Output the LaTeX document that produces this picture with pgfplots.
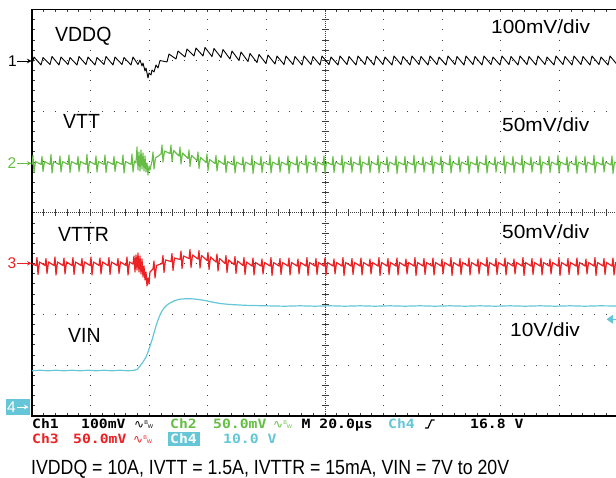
\documentclass[border=0pt]{standalone}
\usepackage{pgfplots}
\pgfplotsset{compat=1.18}
\usepackage{fontspec}
\setmainfont{Liberation Sans}
\newfontfamily\scopefont{DejaVu Sans Mono}
\newfontfamily\symfont{DejaVu Sans}
\usetikzlibrary{arrows.meta}
\definecolor{chgreen}{RGB}{102,189,69}
\definecolor{chred}{RGB}{237,32,36}
\definecolor{chcyan}{RGB}{100,198,214}
\definecolor{gridc}{RGB}{60,60,60}
\newcommand{\bw}{{\symfont\fontsize{12}{12}\selectfont ∿}\raisebox{3.5pt}{\fontsize{5.5}{5.5}\selectfont B}\raisebox{-0.5pt}{\fontsize{5.5}{5.5}\selectfont W}}
\begin{document}
\begin{tikzpicture}
% ---------- graticule ----------
\begin{scope}[x=1pt,y=-1pt]
\foreach \i in {1,2,3,4,6,7,8,9}
  \draw[gridc, line width=0.9pt, dash pattern=on 0.9pt off 9.2625pt, dash phase=0.45pt] ({32+58.6*\i},9.5) -- ({32+58.6*\i},416);
\foreach \j in {1,2,3,5,6,7}
  \draw[gridc, line width=0.9pt, dash pattern=on 0.9pt off 10.82pt, dash phase=0.45pt] (32,{9.5+50.8125*\j}) -- (618,{9.5+50.8125*\j});
\draw[gridc, line width=0.8pt, dash pattern=on 0.8pt off 1.2pt] (325,9.5) -- (325,416);
\draw[gridc, line width=0.8pt, dash pattern=on 0.8pt off 1.2pt] (32,212.75) -- (618,212.75);
\foreach \j in {1,...,39}
  \draw[gridc, line width=0.7pt] (321.5,{9.5+10.1625*\j}) -- (328.5,{9.5+10.1625*\j});
\foreach \i in {1,...,49}
  \draw[gridc, line width=0.7pt] ({32+11.72*\i},209.5) -- ({32+11.72*\i},216);
\foreach \i in {1,...,49} {
  \draw[gridc, line width=0.8pt] ({32+11.72*\i},9.5) -- ({32+11.72*\i},12.5);
  \draw[gridc, line width=0.8pt] ({32+11.72*\i},416) -- ({32+11.72*\i},413);
}
\foreach \j in {1,...,39}
  \draw[gridc, line width=0.8pt] (32,{9.5+10.1625*\j}) -- (35,{9.5+10.1625*\j});
\draw[black, line width=1.2pt] (618,9.5) -- (32,9.5) -- (32,416) -- (618,416);
\end{scope}
% ---------- traces ----------
\begin{axis}[at={(32pt,-9.5pt)}, anchor=north west, scale only axis,
  width=586pt, height=406.5pt, xmin=32, xmax=618, ymin=9.5, ymax=416,
  y dir=reverse, hide axis, clip=false]
% Ch4 VIN
\addplot[chcyan, line width=1.2pt, mark=none, line join=round] coordinates {
(32,370.8)(40,370.2)(48,370.8)(56,370.2)(64,370.8)(72,370.2)(80,370.8)(88,370.2)(96,370.8)(104,370.2)(112,370.8)(120,370.2)(128,370.8)(134,370.3)(137,369.5)(140,366)(143,362)(146,357)(148,352)(150,346)(152,340)(154,333)(156,326)(158,320)(160,315)(162,311)(164,308)(167,305)(170,303)(175,300.5)(180,299.2)(186,298.7)(192,298.8)(198,299.4)(205,300.5)(212,302)(220,303.5)(230,304.5)(245,305.3)(265,305.8)(285,306.2)(300,305.8)(315,306.2)(330,305.8)(345,306.2)(360,305.8)(375,306.2)(390,305.8)(405,306.2)(420,305.8)(435,306.2)(450,305.8)(465,306.2)(480,305.8)(495,306.2)(510,305.8)(525,306.2)(540,305.8)(555,306.2)(570,305.8)(585,306.2)(600,305.8)(618,306)
};
% Ch3 VTTR
\addplot[chred, line width=1.2pt, mark=none, line join=round] coordinates {
(32,264)
(36,265.5)(37,257.5)(38,274.5)(39.5,262)
(45,265.5)(46,258.5)(47,273.5)(48.5,262)
(54,265.5)(55,257)(56,275)(57.5,262)
(63,265.5)(64,258)(65,274)(66.5,262)
(72,265.5)(73,257.5)(74,274.5)(75.5,262)
(81,265.5)(82,258.5)(83,273.5)(84.5,262)
(90,265.5)(91,257)(92,275)(93.5,262)
(99,265.5)(100,258)(101,274)(102.5,262)
(108,265.5)(109,257.5)(110,274.5)(111.5,262)
(117,265.5)(118,258.5)(119,273.5)(120.5,262)
(126,265.5)(127,257)(128,275)(129.5,262)
(133,264)(134,256)(135,272)(136,255)(137,270)(138,253)(139,272)(140,256)(141,274)(142,259)(143,277)(144,266)(145,280)(146,272)(147,286)(148,278)(149,284)(150,272)
(153,269)(154,261)(155,278)(156.5,265.5)
(162,263.5)(163,255.5)(164,272.5)(165.5,260)
(171,261.5)(172,253.5)(173,270.5)(174.5,258)
(180,259.5)(181,251)(182,268.5)(183.5,256)
(189,258.5)(190,249.5)(191,267.5)(192.5,255)
(198,259)(199,250.5)(200,268)(201.5,255.5)
(207,260.5)(208,252.5)(209,269.5)(210.5,257)
(216,262)(217,254)(218,271)(219.5,258.5)
(225,263.5)(226,255.5)(227,272.5)(228.5,260)
(234,264.5)(235,256.5)(236,273.5)(237.5,261)
(243,265.5)(244,257.5)(245,274.5)(246.5,262)
(252,266)(253,258)(254,275)(255.5,262.5)
(261,266)(262,259)(263,274)(264.5,262.5)
(270,266)(271,257.5)(272,275.5)(273.5,262.5)
(279,266)(280,258.5)(281,274.5)(282.5,262.5)
(288,266)(289,258)(290,275)(291.5,262.5)
(297,266)(298,259)(299,274)(300.5,262.5)
(306,266)(307,257.5)(308,275.5)(309.5,262.5)
(315,266)(316,258.5)(317,274.5)(318.5,262.5)
(324,266)(325,258)(326,275)(327.5,262.5)
(333,266)(334,259)(335,274)(336.5,262.5)
(342,266)(343,257.5)(344,275.5)(345.5,262.5)
(351,266)(352,258.5)(353,274.5)(354.5,262.5)
(360,266)(361,258)(362,275)(363.5,262.5)
(369,266)(370,259)(371,274)(372.5,262.5)
(378,266)(379,257.5)(380,275.5)(381.5,262.5)
(387,266)(388,258.5)(389,274.5)(390.5,262.5)
(396,266)(397,258)(398,275)(399.5,262.5)
(405,266)(406,259)(407,274)(408.5,262.5)
(414,266)(415,257.5)(416,275.5)(417.5,262.5)
(423,266)(424,258.5)(425,274.5)(426.5,262.5)
(432,266)(433,258)(434,275)(435.5,262.5)
(441,266)(442,259)(443,274)(444.5,262.5)
(450,266)(451,257.5)(452,275.5)(453.5,262.5)
(459,266)(460,258.5)(461,274.5)(462.5,262.5)
(468,266)(469,258)(470,275)(471.5,262.5)
(477,266)(478,259)(479,274)(480.5,262.5)
(486,266)(487,257.5)(488,275.5)(489.5,262.5)
(495,266)(496,258.5)(497,274.5)(498.5,262.5)
(504,266)(505,258)(506,275)(507.5,262.5)
(513,266)(514,259)(515,274)(516.5,262.5)
(522,266)(523,257.5)(524,275.5)(525.5,262.5)
(531,266)(532,258.5)(533,274.5)(534.5,262.5)
(540,266)(541,258)(542,275)(543.5,262.5)
(549,266)(550,259)(551,274)(552.5,262.5)
(558,266)(559,257.5)(560,275.5)(561.5,262.5)
(567,266)(568,258.5)(569,274.5)(570.5,262.5)
(576,266)(577,258)(578,275)(579.5,262.5)
(585,266)(586,259)(587,274)(588.5,262.5)
(594,266)(595,257.5)(596,275.5)(597.5,262.5)
(603,266)(604,258.5)(605,274.5)(606.5,262.5)
(612,266)(613,258)(614,275)(615.5,262.5)
(618,265)
};
% Ch2 VTT
\addplot[chgreen, line width=1.1pt, mark=none, line join=round] coordinates {
(32,164.5)(33,155.5)(34,172.5)(35.5,161.5)
(41,164.5)(42,156.5)(43,171.5)(44.5,161.5)
(50,164.5)(51,154.5)(52,173)(53.5,161.5)
(59,164.5)(60,156)(61,172)(62.5,161.5)
(68,164.5)(69,155)(70,172.5)(71.5,161.5)
(77,164.5)(78,156.5)(79,171.5)(80.5,161.5)
(86,164.5)(87,154.5)(88,173)(89.5,161.5)
(95,164.5)(96,156)(97,172)(98.5,161.5)
(104,164.5)(105,155)(106,172.5)(107.5,161.5)
(113,164.5)(114,156.5)(115,171.5)(116.5,161.5)
(122,164.5)(123,155)(124,173)(125.5,161.5)
(131,164.5)(132,154)(133,172)(134.5,161)
(136,163)(137,147)(138,170)(139,152)(140,171)(141,150)(142,169)(143,153)(144,171)(145,156)(146,172)(147,163)(148,175)(149,166)(150,170)
(152,161)(153,152)(154,169)(155.5,158)
(161,154)(162,145)(163,162)(164.5,151)
(170,153.5)(171,145)(172,161.5)(173.5,150.5)
(179,156)(180,147)(181,164)(182.5,153)
(188,158.5)(189,150)(190,166.5)(191.5,155.5)
(197,160.5)(198,152)(199,168.5)(200.5,157.5)
(206,162.5)(207,154)(208,170.5)(209.5,159.5)
(215,163.5)(216,155.5)(217,171)(218.5,160.5)
(224,164.5)(225,155.5)(226,172.5)(227.5,161.5)
(233,165)(234,156)(235,173)(236.5,162)
(242,165)(243,157)(244,172)(245.5,162)
(251,165)(252,155.5)(253,173.5)(254.5,162)
(260,165)(261,156.5)(262,172.5)(263.5,162)
(269,165)(270,155)(271,173)(272.5,162)
(278,165)(279,157)(280,172)(281.5,162)
(287,165)(288,156)(289,173.5)(290.5,162)
(296,165)(297,156.5)(298,172.5)(299.5,162)
(305,165)(306,155.5)(307,173)(308.5,162)
(314,165)(315,157)(316,172)(317.5,162)
(323,165)(324,156)(325,173.5)(326.5,162)
(332,165)(333,156.5)(334,172.5)(335.5,162)
(341,165)(342,155.5)(343,173)(344.5,162)
(350,165)(351,157)(352,172)(353.5,162)
(359,165)(360,156)(361,173.5)(362.5,162)
(368,165)(369,156.5)(370,172.5)(371.5,162)
(377,165)(378,155.5)(379,173)(380.5,162)
(386,165)(387,157)(388,172)(389.5,162)
(395,165)(396,156)(397,173.5)(398.5,162)
(404,165)(405,156.5)(406,172.5)(407.5,162)
(413,165)(414,155.5)(415,173)(416.5,162)
(422,165)(423,157)(424,172)(425.5,162)
(431,165)(432,156)(433,173.5)(434.5,162)
(440,165)(441,156.5)(442,172.5)(443.5,162)
(449,165)(450,155.5)(451,173)(452.5,162)
(458,165)(459,157)(460,172)(461.5,162)
(467,165)(468,156)(469,173.5)(470.5,162)
(476,165)(477,156.5)(478,172.5)(479.5,162)
(485,165)(486,155.5)(487,173)(488.5,162)
(494,165)(495,157)(496,172)(497.5,162)
(503,165)(504,156)(505,173.5)(506.5,162)
(512,165)(513,156.5)(514,172.5)(515.5,162)
(521,165)(522,155.5)(523,173)(524.5,162)
(530,165)(531,157)(532,172)(533.5,162)
(539,165)(540,156)(541,173.5)(542.5,162)
(548,165)(549,156.5)(550,172.5)(551.5,162)
(557,165)(558,155.5)(559,173)(560.5,162)
(566,165)(567,157)(568,172)(569.5,162)
(575,165)(576,156)(577,173.5)(578.5,162)
(584,165)(585,156.5)(586,172.5)(587.5,162)
(593,165)(594,155.5)(595,173)(596.5,162)
(602,165)(603,157)(604,172)(605.5,162)
(611,165)(612,156)(613,173.5)(614.5,162)
(618,164)
};
% Ch1 VDDQ
\addplot[black, line width=0.9pt, mark=none, line join=round] coordinates {
(32,64.5)(34,57)(41,65)(43,57.5)(50,64.5)(52,56.5)(59,65)(61,57)(68,64.5)(70,57.5)(77,65)(79,56.5)(86,64.5)(88,57)(95,65)(97,57.5)(104,64.5)(106,56.5)(113,65)(115,57)(122,64.5)(124,57.5)(131,65)(133,57)
(138,64.5)(140,60)(142,66)(143,63)(145,71)(146,68)(148,78)(149,73)(151,75)(152,70)(154,72)(156,65)(158,68)(160,60.5)
(167,62)(169,54)(176,59)(178,51)(185,57)(187,49)(194,56)(196,48)(203,56)(205,47.5)(212,56.5)(214,48.5)(221,57.5)(223,49.5)(230,59)(232,51)(239,60.5)(241,52)(248,61.5)(250,53.5)(257,62.5)(259,54.5)(266,63.5)(268,55)(275,64)(277,56)(284,64.5)(286,56)(293,64.5)(295,56.5)
(302,65)(304,56)(311,64.5)(313,56.5)(320,65)(322,56)(329,64.5)(331,57)(338,65)(340,56)(347,64.5)(349,56.5)(356,65)(358,56)(365,64.5)(367,56.5)(374,65)(376,56)(383,64.5)(385,57)(392,65)(394,56)(401,64.5)(403,56.5)(410,65)(412,56)(419,64.5)(421,56.5)(428,65)(430,56)(437,64.5)(439,57)(446,65)(448,56)(455,64.5)(457,56.5)(464,65)(466,56)(473,64.5)(475,56.5)(482,65)(484,56)(491,64.5)(493,57)(500,65)(502,56)(509,64.5)(511,56.5)(518,65)(520,56)(527,64.5)(529,56.5)(536,65)(538,56)(545,64.5)(547,57)(554,65)(556,56)(563,64.5)(565,56.5)(572,65)(574,56)(581,64.5)(583,56.5)(590,65)(592,56)(599,64.5)(601,57)(608,65)(610,56)(617,64.5)
};
\end{axis}
% ---------- annotations ----------
\begin{scope}[x=1pt,y=-1pt]
\tikzset{lab/.style={anchor=base west, inner sep=0pt, font=\fontsize{20.5}{24}\selectfont, xscale=0.95},
         rlab/.style={anchor=base west, inner sep=0pt, font=\fontsize{19}{22}\selectfont, xscale=1.1},
         st/.style={anchor=base west, inner sep=0pt, font=\scopefont\bfseries\fontsize{12.8}{14}\selectfont, xscale=1.15},
         mk/.style={anchor=base west, inner sep=0pt, font=\fontsize{15.5}{17}\selectfont}}
\node[lab] at (55,41.7) {VDDQ};
\node[lab] at (63,128.3) {VTT};
\node[lab] at (58,241.7) {VTTR};
\node[lab] at (68,342.7) {VIN};
\node[rlab] at (491,34) {100mV/div};
\node[rlab] at (502,131.7) {50mV/div};
\node[rlab] at (502,238.3) {50mV/div};
\node[rlab] at (510,336.7) {10V/div};
% channel markers
\node[mk, text=black] at (8,66.5) {1};
\draw[black, line width=0.9pt, -{Stealth[length=4.5pt,width=4.5pt]}] (17,61) -- (31.5,61);
\node[mk, text=chgreen] at (7.5,168.8) {2};
\draw[chgreen, line width=0.9pt, -{Stealth[length=4.5pt,width=4.5pt]}] (17,163.3) -- (31.5,163.3);
\node[mk, text=chred] at (7.5,268.8) {3};
\draw[chred, line width=0.9pt, -{Stealth[length=4.5pt,width=4.5pt]}] (17,263.3) -- (31.5,263.3);
\fill[chcyan] (5.5,399) rectangle (29.5,415);
\node[mk, text=white] at (7,412.8) {4};
\draw[white, line width=0.9pt, -{Stealth[length=4.5pt,width=4.5pt]}] (17,407) -- (28.5,407);
% trigger level marker
\fill[chcyan] (606.5,319.3) -- (613,314.8) -- (613,323.8) -- cycle;
\draw[chcyan, line width=1.2pt] (612,319.3) -- (617,319.3);
% status lines
\node[st, text=black] at (32,428.3) {Ch1};
\node[st, text=black] at (81,428.3) {100mV};
\node[anchor=base west, inner sep=0pt, text=black] at (134,428.3) {\bw};
\node[st, text=chgreen] at (170,428.3) {Ch2};
\node[st, text=chgreen] at (213,428.3) {50.0mV};
\node[anchor=base west, inner sep=0pt, text=chgreen] at (273,428.3) {\bw};
\node[st, text=black] at (301.5,428.3) {M 20.0µs};
\node[st, text=chcyan] at (388,428.3) {Ch4};
\draw[black, line width=1.2pt] (425,428) -- (428,428) -- (431.5,420) -- (434.5,420);
\node[st, text=black] at (470,428.3) {16.8 V};
\node[st, text=chred] at (32,443.3) {Ch3};
\node[st, text=chred] at (73,443.3) {50.0mV};
\node[anchor=base west, inner sep=0pt, text=chred] at (133,443.3) {\bw};
\fill[chcyan] (168,431.5) rectangle (200,446);
\node[st, text=white] at (170,443.3) {Ch4};
\node[st, text=chcyan] at (223,443.3) {10.0 V};
% caption
\node[anchor=base west, inner sep=0pt, font=\fontsize{20.5}{24}\selectfont, xscale=0.865] at (31,474) {IVDDQ = 10A, IVTT = 1.5A, IVTTR = 15mA, VIN = 7V to 20V};
\end{scope}
\pgfresetboundingbox
\path[use as bounding box] (0pt,0pt) rectangle (616pt,-478pt);
\end{tikzpicture}
\end{document}
